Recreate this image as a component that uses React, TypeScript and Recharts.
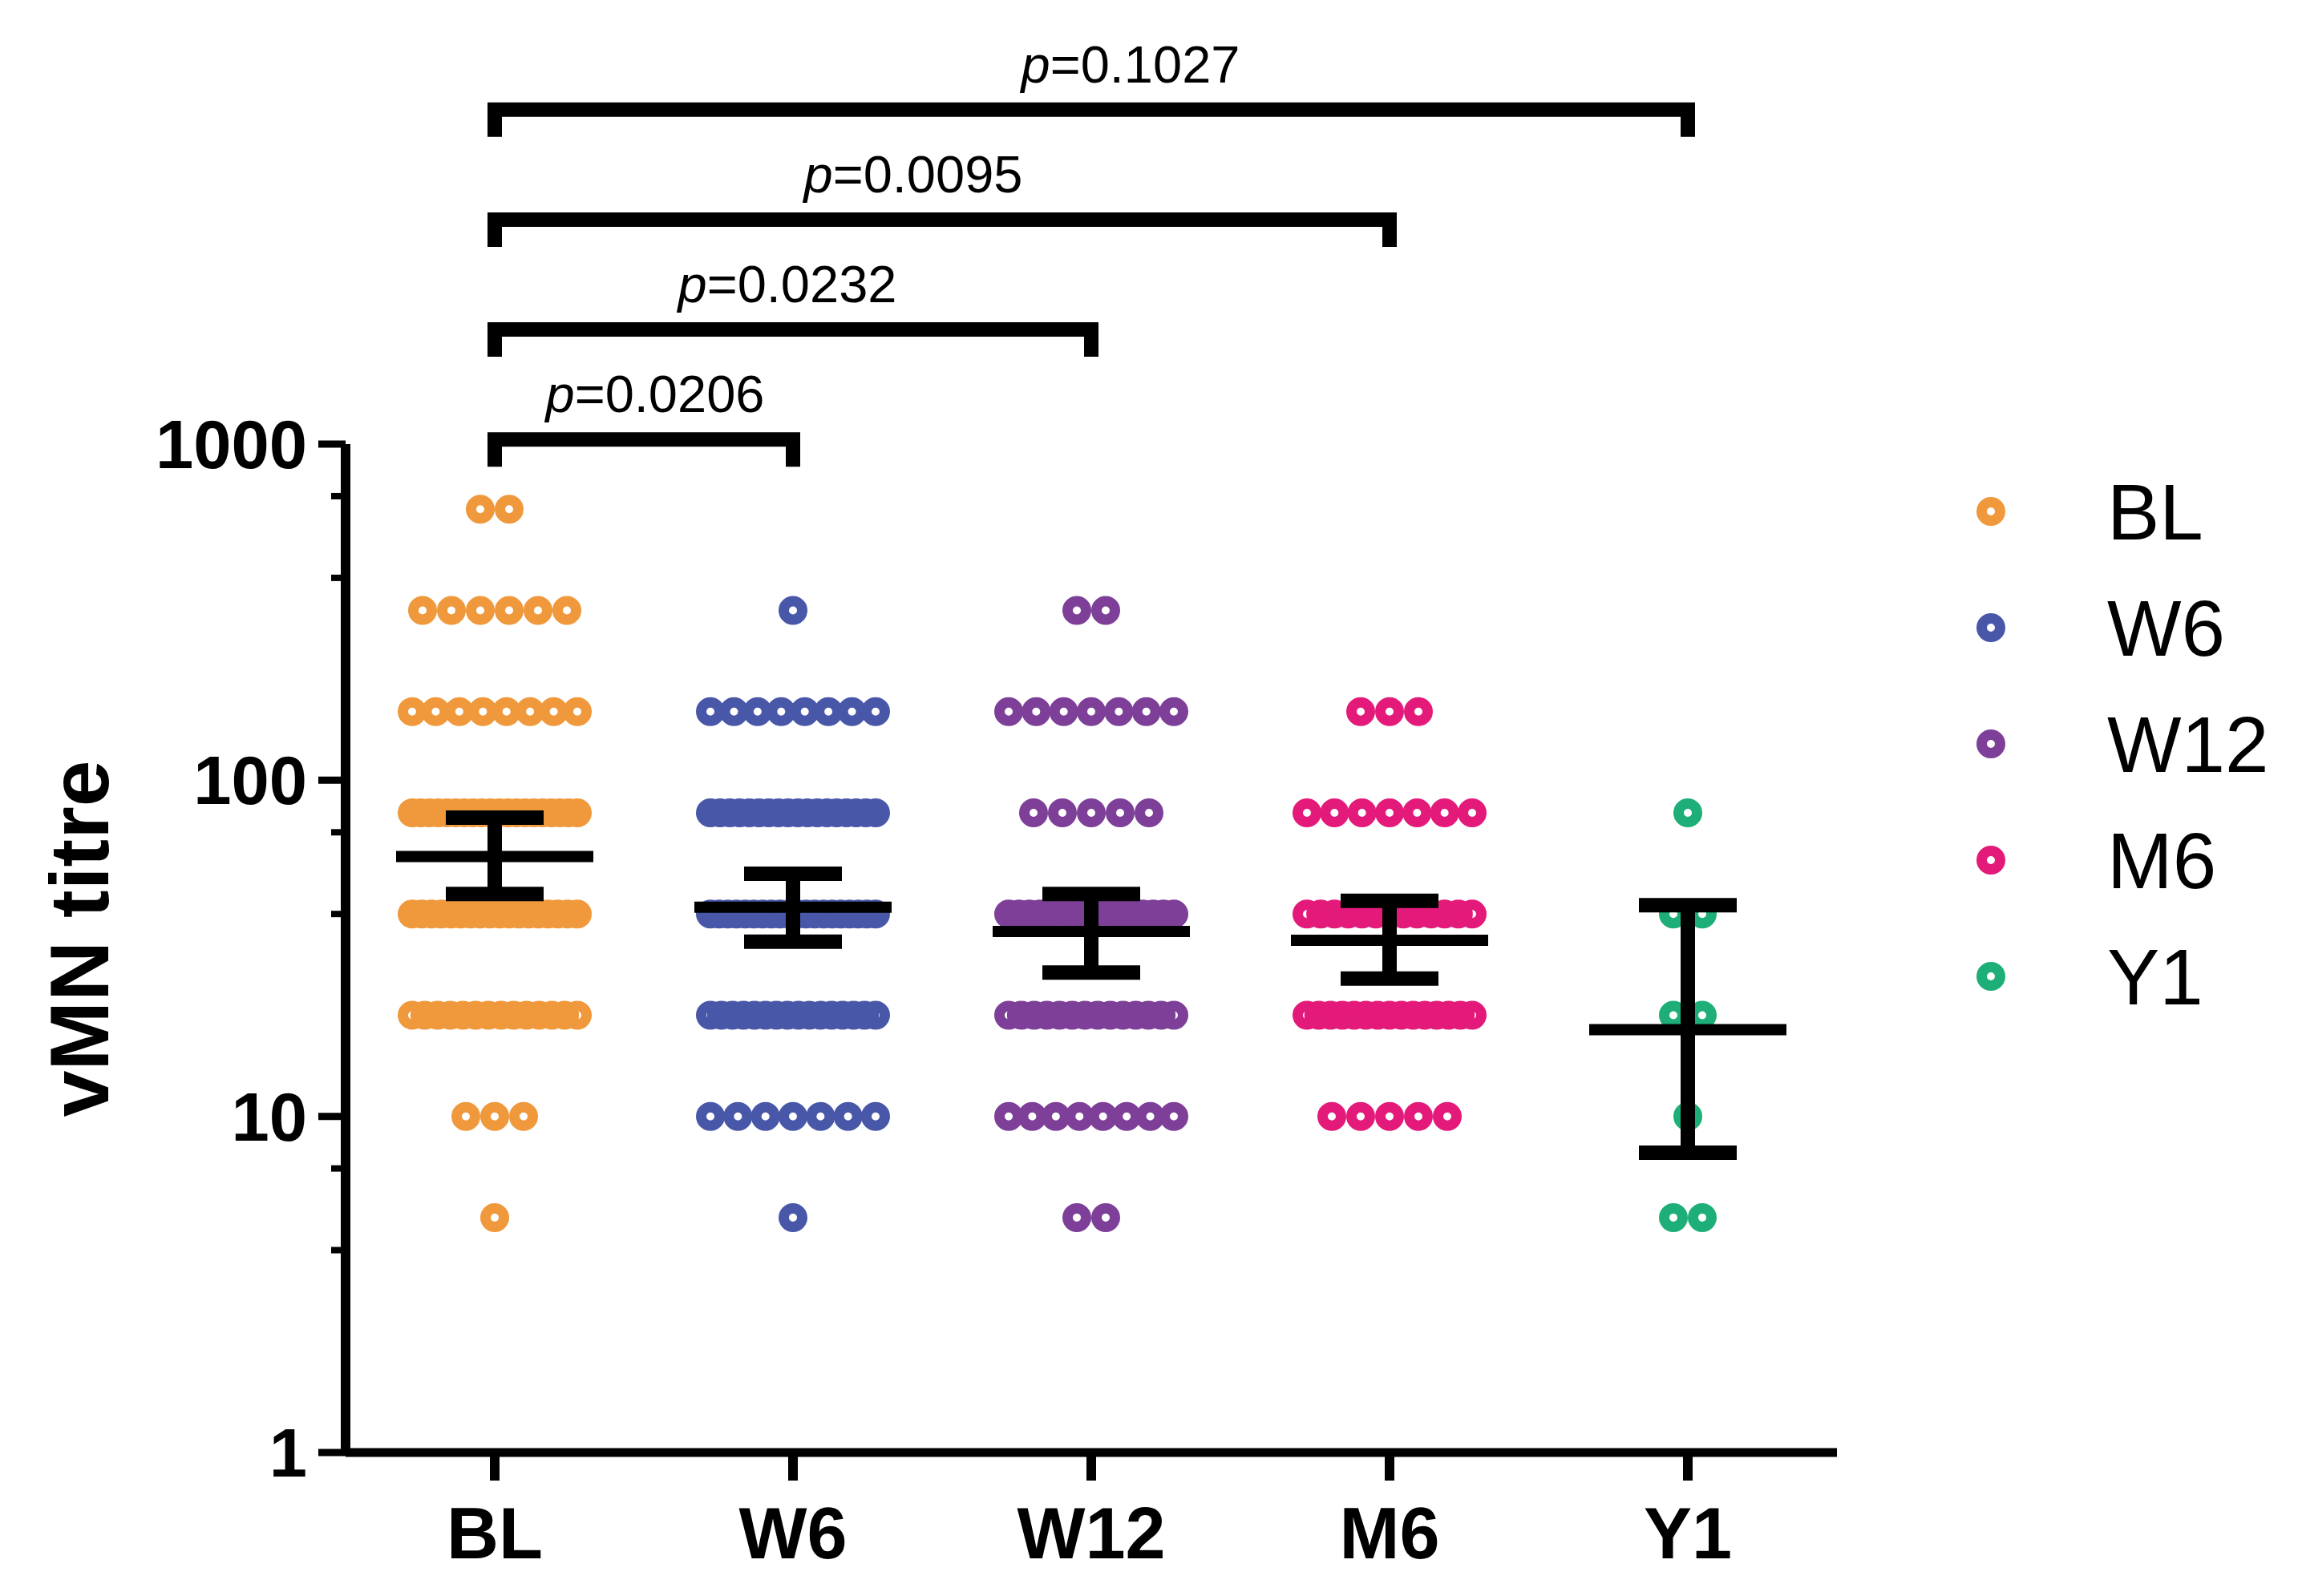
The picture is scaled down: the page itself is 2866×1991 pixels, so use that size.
import React from 'react';
import {
  ScatterChart,
  Scatter,
  XAxis,
  YAxis,
  ErrorBar,
  ReferenceLine,
  Legend,
} from 'recharts';

const FONT = '"Liberation Sans", Arial, Helvetica, sans-serif';

// groups and their colours
const groups = ['BL', 'W6', 'W12', 'M6', 'Y1'];
const groupColors = ['#F0993C', '#4957A8', '#7D3F98', '#E41A7A', '#1EAE78'];

// titre levels and how many subjects sit at each level, per group
const titreLevels = [5, 10, 20, 40, 80, 160, 320, 640];
const countsBL = [1, 3, 14, 18, 20, 8, 6, 2];
const countsW6 = [1, 7, 16, 20, 18, 8, 1, 0];
const countsW12 = [2, 8, 14, 17, 5, 7, 2, 0];
const countsM6 = [0, 5, 15, 13, 7, 3, 0, 0];
const countsY1 = [2, 1, 2, 2, 1, 0, 0, 0];
const groupCounts = [countsBL, countsW6, countsW12, countsM6, countsY1];

// geometric mean with 95% CI
const geoMean = [59.3, 41.9, 35.5, 33.4, 18.1];
const ciLower = [45.9, 33.1, 26.8, 25.7, 7.8];
const ciUpper = [77.4, 52.7, 45.9, 43.8, 42.5];

// comparisons against BL
const compareTo = ['W6', 'W12', 'M6', 'Y1'];
const pValues = ['0.0206', '0.0232', '0.0095', '0.1027'];

// layout
const PLOT_W = 1860;
const UNIT_PX = PLOT_W / groups.length;
const labelShift = [14, -7, -36, 49];

const spreadRow = (n: number) => {
  const step = n > 1 ? Math.min(36, 206 / (n - 1)) : 0;
  return Array.from({ length: n }, (_, k) => ((k - (n - 1) / 2) * step) / UNIT_PX);
};

const groupPoints = groups.map((g, gi) => {
  const pts: { x: number; y: number }[] = [];
  groupCounts[gi].forEach((n, li) => {
    spreadRow(n).forEach(dx => pts.push({ x: gi + 0.5 + dx, y: titreLevels[li] }));
  });
  return pts;
});

const summary = groups.map((g, gi) => ({
  x: gi + 0.5,
  y: geoMean[gi],
  err: [geoMean[gi] - ciLower[gi], ciUpper[gi] - geoMean[gi]],
}));

const ring = (color: string) => (props: any) => {
  if (props.cx == null) return null;
  return (
    <circle cx={props.cx} cy={props.cy} r={11.5} fill="none" stroke={color} strokeWidth={13} />
  );
};

const MeanLine = (props: any) => {
  if (props.cx == null) return null;
  return (
    <line x1={props.cx - 123} x2={props.cx + 123} y1={props.cy} y2={props.cy} stroke="#000" strokeWidth={14} />
  );
};

const YTick = (props: any) => {
  const { x, y, payload } = props;
  const v = payload.value;
  const major = [1, 10, 100, 1000].includes(v);
  return (
    <g>
      <line x1={x - (major ? 34 : 18)} x2={x} y1={y} y2={y} stroke="#000" strokeWidth={major ? 9 : 8} />
      {major && (
        <text x={x - 48} y={y} dy={30} textAnchor="end" fontSize={85} fontWeight={700} fontFamily={FONT} fill="#000">
          {v}
        </text>
      )}
    </g>
  );
};

const YTitle = (props: any) => {
  const vb = props.viewBox || { x: 89, y: 546, width: 334, height: 1258 };
  const x = vb.x + 1;
  const y = vb.y + vb.height / 2 - 12;
  return (
    <text
      x={x}
      y={y}
      dy={37}
      transform={`rotate(-90, ${x}, ${y})`}
      textAnchor="middle"
      fontSize={104}
      fontWeight={700}
      fontFamily={FONT}
      fill="#000"
    >
      vMN titre
    </text>
  );
};

const bracketShape = (i: number) => (props: any) => {
  const { x1, x2, y1, y2 } = props;
  if (x1 == null) return null;
  const y = Math.min(y1, y2);
  return (
    <g>
      <path d={`M${x1},${y + 34} V${y} H${x2} V${y + 34}`} fill="none" stroke="#000" strokeWidth={18} />
      <text x={(x1 + x2) / 2 + labelShift[i]} y={y - 34} textAnchor="middle" fontSize={65} fontFamily={FONT} fill="#000">
        <tspan fontStyle="italic">p</tspan>={pValues[i]}
      </text>
    </g>
  );
};

const renderLegend = () => (
  <svg width={430} height={740} style={{ display: 'block' }}>
    {groups.map((g, i) => {
      const cy = 85 + i * 145;
      return (
        <g key={g}>
          <circle cx={55} cy={cy} r={11.5} fill="none" stroke={groupColors[i]} strokeWidth={13} />
          <text x={200} y={cy + 35} fontSize={98} fontFamily={FONT} fill="#000">
            {g}
          </text>
        </g>
      );
    })}
  </svg>
);

export default function App() {
  return (
    <div style={{ width: 2850, height: 1975, background: '#fff' }}>
      <ScatterChart width={2850} height={1975} margin={{ top: 546, right: 567, bottom: 21, left: 89 }}>
        <XAxis
          type="number"
          dataKey="x"
          domain={[0, 5]}
          allowDataOverflow
          ticks={[0.5, 1.5, 2.5, 3.5, 4.5]}
          interval={0}
          tickFormatter={(v: number) => groups[Math.floor(v)]}
          height={150}
          axisLine={{ stroke: '#000', strokeWidth: 11 }}
          tickLine={{ stroke: '#000', strokeWidth: 12 }}
          tickSize={35}
          tickMargin={33}
          tick={{ fill: '#000', fontSize: 90, fontWeight: 700, fontFamily: FONT }}
        />
        <YAxis
          type="number"
          dataKey="y"
          scale="log"
          domain={[1, 1000]}
          allowDataOverflow
          ticks={[1, 4, 7, 10, 40, 70, 100, 400, 700, 1000]}
          interval={0}
          width={334}
          axisLine={{ stroke: '#000', strokeWidth: 12 }}
          tickLine={false}
          tickSize={0}
          tickMargin={0}
          tick={(p: any) => <YTick {...p} />}
          label={{ content: (p: any) => <YTitle {...p} /> }}
        />
        {groups.map((g, gi) => (
          <Scatter
            key={g}
            name={g}
            data={groupPoints[gi]}
            fill={groupColors[gi]}
            shape={ring(groupColors[gi])}
            isAnimationActive={false}
          />
        ))}
        <Scatter data={summary} shape={MeanLine} legendType="none" isAnimationActive={false} zIndex={700}>
          <ErrorBar
            dataKey="err"
            direction="y"
            width={61}
            strokeWidth={18}
            stroke="#000"
            isAnimationActive={false}
            zIndex={700}
          />
        </Scatter>
        {compareTo.map((g, i) => {
          const level = 1000 * Math.pow(10, 0.014 + 0.327 * i);
          return (
            <ReferenceLine
              key={g}
              segment={[
                { x: 0.5, y: level },
                { x: groups.indexOf(g) + 0.5, y: level },
              ]}
              ifOverflow="visible"
              shape={bracketShape(i)}
            />
          );
        })}
        <Legend
          layout="vertical"
          align="center"
          verticalAlign="middle"
          width={430}
          height={740}
          wrapperStyle={{ left: 2420, top: 545, width: 430, height: 740 }}
          content={renderLegend}
        />
      </ScatterChart>
    </div>
  );
}
